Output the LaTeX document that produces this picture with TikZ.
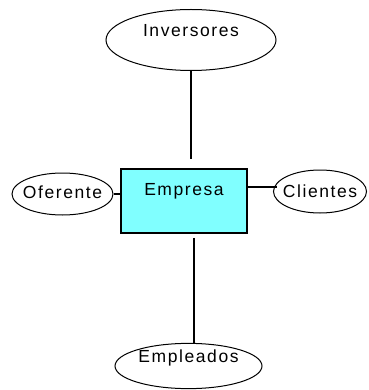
\documentclass[tikz,border=0pt]{standalone}
\usepackage{fontspec}
\setmainfont{Liberation Sans}[LetterSpace=9]
\usetikzlibrary{shapes.geometric}
\definecolor{boxcyan}{RGB}{128,255,255}
\newcommand{\cname}[1]{\makebox[0pt]{#1}}
\begin{document}
\begin{tikzpicture}[x=1pt, y=-1pt, line width=1.3pt,
		font=\fontsize{17.5}{20}\selectfont,
		attr/.style={ellipse, draw, line width=1pt, inner sep=0pt, text height=12pt},
		entity/.style={rectangle, draw, fill=boxcyan, line width=1.6pt, inner sep=0pt, text height=12pt,
			minimum width=126pt, minimum height=64pt}]
			\useasboundingbox (0,0) rectangle (368,390);
			\node[entity, text depth=24pt] (empresa) at (184,201) {\cname{Empresa}};
			\node[attr, minimum width=170pt, minimum height=61pt, text depth=18pt] (inversores) at (191,40) {\cname{Inversores}};
			\node[attr, minimum width=101pt, minimum height=42pt, text depth=4pt] (oferente) at (62.5,194) {\cname{Oferente}};
			\node[attr, minimum width=93pt, minimum height=43pt, text depth=1pt] (clientes) at (320,191.5) {\cname{Clientes}};
			\node[attr, minimum width=147pt, minimum height=45pt, text depth=20pt] (empleados) at (188.5,366) {\cname{Empleados}};
			\draw[shorten >=9pt] (inversores.south) -- (inversores.south |- empresa.north);
			\draw[shorten <=4pt] ([xshift=10pt]empresa.south) -- ([xshift=10pt]empresa.south |- empleados.north);
			\draw (oferente.east) -- (oferente.east -| empresa.west);
			\draw[shorten >=-3.5pt] ([yshift=14pt]empresa.east) -- ([yshift=14pt]empresa.east -| clientes.west);
		\end{tikzpicture}
\end{document}
